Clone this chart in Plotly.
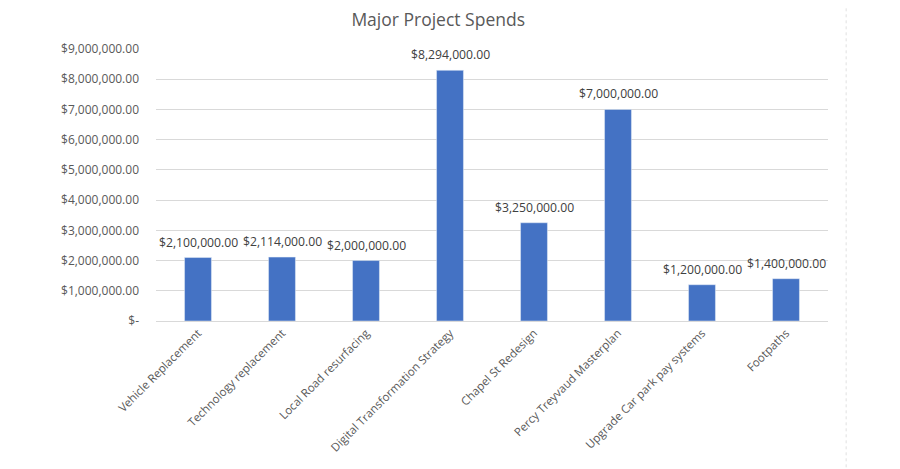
import plotly.graph_objects as go

projects = [
    "Vehicle Replacement",
    "Technology replacement",
    "Local Road resurfacing",
    "Digital Transformation Strategy",
    "Chapel St Redesign",
    "Percy Treyvaud Masterplan",
    "Upgrade Car park pay systems",
    "Footpaths",
]
spend = [2100000, 2114000, 2000000, 8294000, 3250000, 7000000, 1200000, 1400000]

y_ticks = [i * 1000000 for i in range(10)]
y_tick_labels = ["$-"] + [f"${v:,.2f}" for v in y_ticks[1:]]

font_family = "Open Sans, Lato, sans-serif"

fig = go.Figure(
    go.Bar(
        x=projects,
        y=spend,
        marker=dict(color="#4472C4"),
        hoverinfo="x+y",
    )
)

# value labels above each bar
for name, value in zip(projects, spend):
    fig.add_annotation(
        x=name,
        y=value,
        text=f"${value:,.2f}",
        showarrow=False,
        yanchor="bottom",
        yshift=5,
        font=dict(size=12.2, color="#404040", family=font_family),
    )

fig.update_layout(
    width=900,
    height=469,
    title=dict(
        text="Major Project Spends",
        xref="container",
        x=0.478,
        xanchor="center",
        y=0.974,
        yanchor="middle",
        font=dict(size=17.5, color="#595959", family=font_family),
    ),
    margin=dict(l=148, r=80, t=41, b=156),
    paper_bgcolor="white",
    plot_bgcolor="white",
    bargap=0.68,
    showlegend=False,
    font=dict(family=font_family, color="#595959", size=11),
    shapes=[
        dict(
            type="line",
            xref="paper",
            yref="paper",
            x0=1.027,
            x1=1.027,
            y0=-0.56,
            y1=1.16,
            line=dict(color="#e0e0e0", width=1, dash="dot"),
        )
    ],
)

fig.update_xaxes(
    tickangle=-45,
    tickfont=dict(size=11.5, color="#595959"),
    showgrid=False,
    showline=True,
    linecolor="#d9d9d9",
    ticks="",
    automargin=False,
)
fig.update_yaxes(
    range=[0, 9000000],
    tickvals=y_ticks,
    ticktext=y_tick_labels,
    tickfont=dict(size=12, color="#595959"),
    showgrid=True,
    gridcolor="#d9d9d9",
    zeroline=False,
    ticks="",
    ticklabelstandoff=16,
    automargin=False,
)

fig.write_html("out.html")
